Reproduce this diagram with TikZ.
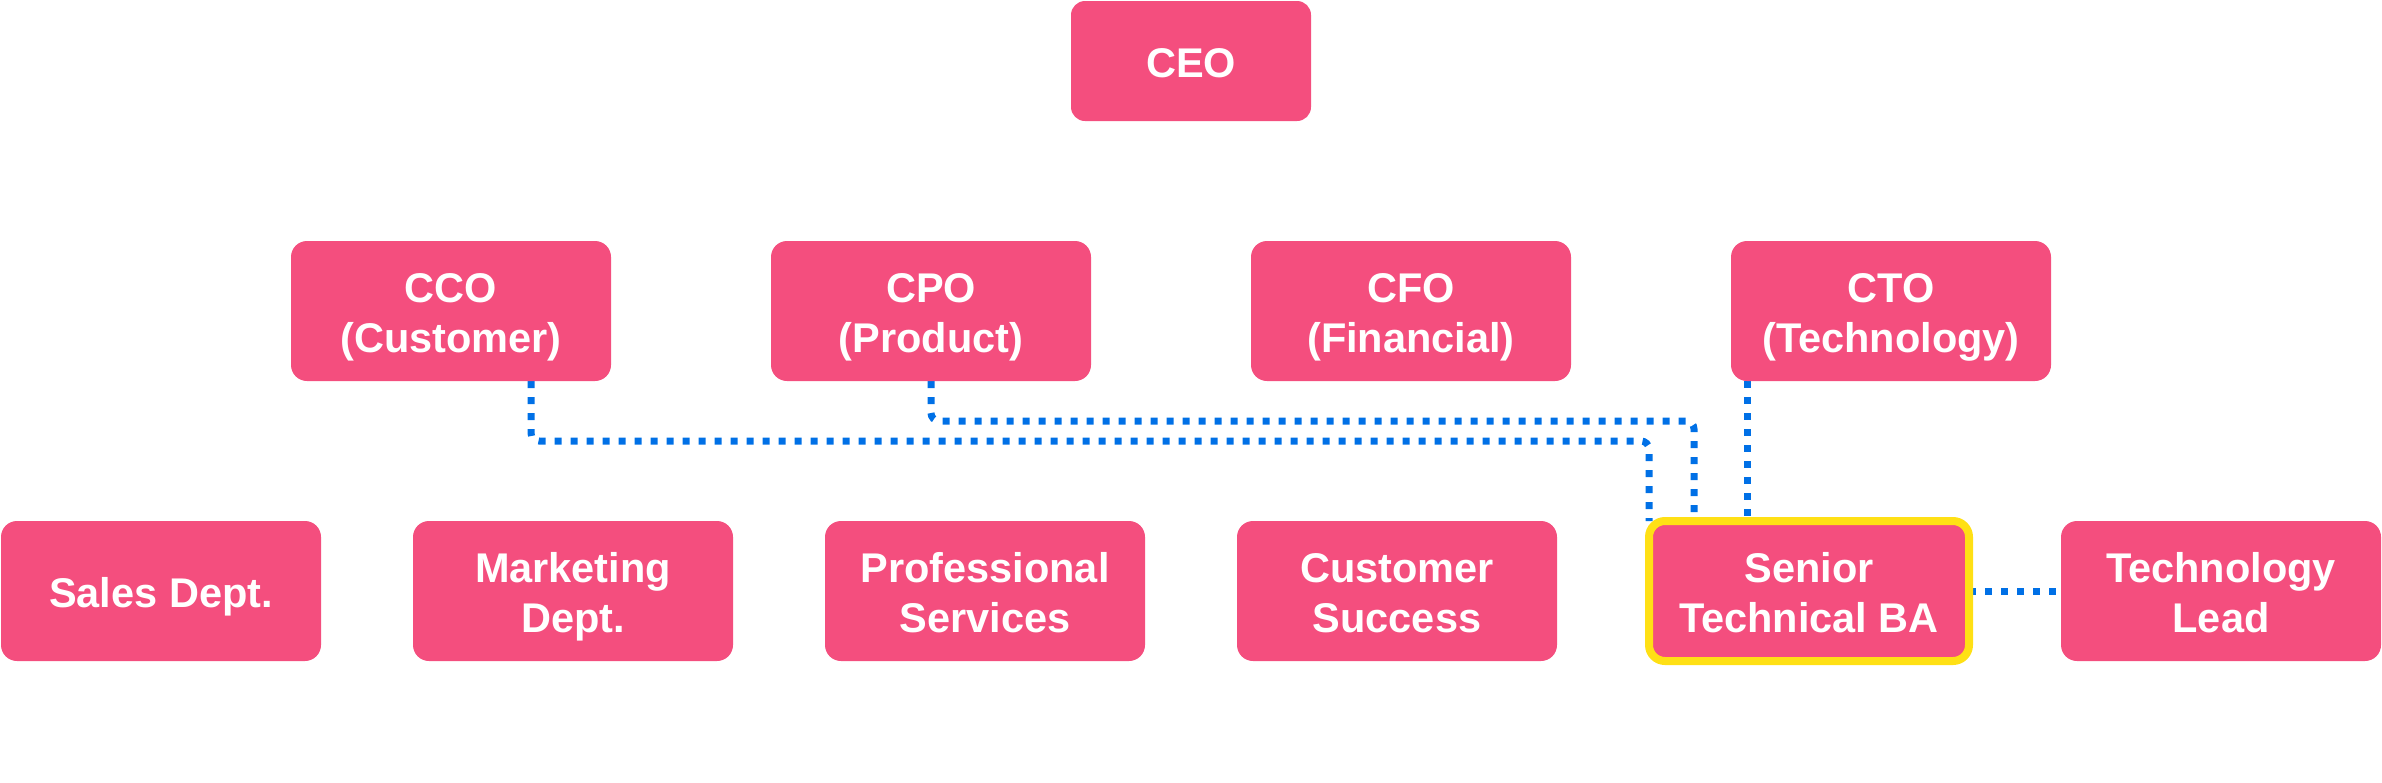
\documentclass[tikz,border=0pt]{standalone}
\usepackage{fontspec}
\setmainfont{Liberation Sans}
\usetikzlibrary{backgrounds}
\definecolor{boxpink}{HTML}{F44E7E}
\definecolor{hlyellow}{HTML}{FFE015}
\definecolor{linkblue}{HTML}{0070E6}
\newcommand\ms{\rule[-4.5pt]{0pt}{25pt}}
\tikzset{
  orgbox/.style={rectangle, rounded corners=8pt, fill=boxpink, text=white,
    font=\fontsize{20.75pt}{25pt}\selectfont\bfseries, align=center,
    minimum width=160pt, minimum height=70pt, inner sep=0pt, outer sep=0pt},
  ceobox/.style={orgbox, minimum width=120pt, minimum height=60pt, rounded corners=7pt},
  highlight/.style={draw=hlyellow, line width=4pt},
  dotlink/.style={draw=linkblue, line width=3.5pt, dash pattern=on 3.5pt off 4.5pt, rounded corners=4pt}
}
\begin{document}
\begin{tikzpicture}[x=0.5pt,y=-0.5pt]
\useasboundingbox (0,0) rectangle (2382,782);
% top
\node[ceobox] (ceo) at (1191,61) {\ms CEO};
% second row
\node[orgbox] (cco) at (451,311) {\ms CCO\\\ms (Customer)};
\node[orgbox] (cpo) at (931,311) {\ms CPO\\\ms (Product)};
\node[orgbox] (cfo) at (1411,311) {\ms CFO\\\ms (Financial)};
\node[orgbox] (cto) at (1891,311) {\ms CTO\\\ms (Technology)};
% third row
\node[orgbox] (sales) at (161,591) {\ms Sales Dept.};
\node[orgbox] (mkt) at (573,591) {\ms Marketing\\\ms Dept.};
\node[orgbox] (ps) at (985,591) {\ms Professional\\\ms Services};
\node[orgbox] (cs) at (1397,591) {\ms Customer\\\ms Success};
\node[orgbox, highlight] (senior) at (1809,591) {\ms Senior\\\ms Technical BA};
\node[orgbox] (tlead) at (2221,591) {\ms Technology\\\ms Lead};
% helper levels
\coordinate (lvlA) at (0,441);
\coordinate (lvlB) at (0,421);
\begin{pgfonlayer}{background}
\draw[dotlink] ([xshift=40pt]cco.south) -- ([xshift=40pt]cco.south |- lvlA)
  -- (senior.north west |- lvlA) -- (senior.north west);
\draw[dotlink] (cpo.south) -- (cpo.south |- lvlB)
  -- ([xshift=22.5pt]senior.north west |- lvlB) -- ([xshift=22.5pt]senior.north west);
\draw[dotlink] ([xshift=-72pt]cto.south) -- ([xshift=-72pt]cto.south |- senior.north);
\draw[dotlink] (senior.east) -- (tlead.west);
\end{pgfonlayer}
\end{tikzpicture}
\end{document}
